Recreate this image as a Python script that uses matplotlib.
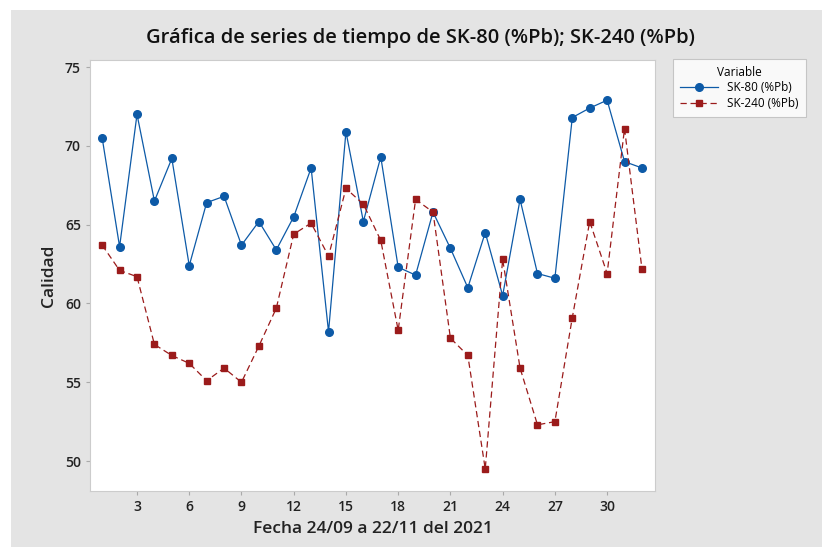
import numpy as np
import matplotlib.pyplot as plt
from matplotlib.patches import Rectangle

plt.rcParams['font.family'] = ['Open Sans', 'DejaVu Sans']

dias = np.arange(1, 33)
sk80 = [70.5, 63.6, 72.0, 66.5, 69.2, 62.4, 66.4, 66.8, 63.7, 65.2,
        63.4, 65.5, 68.6, 58.2, 70.9, 65.2, 69.3, 62.3, 61.8, 65.8,
        63.5, 61.0, 64.5, 60.5, 66.6, 61.9, 61.6, 71.8, 72.4, 72.9,
        69.0, 68.6]
sk240 = [63.7, 62.1, 61.7, 57.4, 56.7, 56.2, 55.1, 55.9, 55.0, 57.3,
         59.7, 64.4, 65.1, 63.0, 67.3, 66.3, 64.0, 58.3, 66.6, 65.8,
         57.8, 56.7, 49.5, 62.8, 55.9, 52.3, 52.5, 59.1, 65.2, 61.9,
         71.1, 62.2]
xticks = [3, 6, 9, 12, 15, 18, 21, 24, 27, 30]
yticks = [50, 55, 60, 65, 70, 75]

gris = '#e4e4e4'
azul = '#0d5aa7'
rojo = '#9b1b1b'

fig = plt.figure(figsize=(8.22, 5.47), dpi=100, facecolor='white')
fig.patches.append(Rectangle((11/822, 0), 1, 537/547, transform=fig.transFigure,
                             facecolor=gris, edgecolor='none', zorder=-1))

ax = fig.add_axes([90/822, 1 - 491/547, 565/822, 431/547])
ax.plot(dias, sk80, color=azul, lw=0.9, marker='o', ms=5.5, label='SK-80 (%Pb)')
ax.plot(dias, sk240, color=rojo, lw=0.9, ls=(0, (5, 3)), marker='s', ms=5,
        label='SK-240 (%Pb)')

ax.set_xlim(0.3, 32.75)
ax.set_ylim(48.1, 75.45)
ax.set_xticks(xticks)
ax.set_yticks(yticks)
ax.tick_params(labelsize=10, colors='#222222', length=3, color='#aaaaaa')
for lab in ax.get_xticklabels() + ax.get_yticklabels():
    lab.set_fontweight('semibold')
for s in ax.spines.values():
    s.set_color('#cccccc')
    s.set_linewidth(0.8)

ax.set_xlabel('Fecha 24/09 a 22/11 del 2021', fontsize=12.5, color='#222222',
              labelpad=5, fontweight='semibold')
ax.set_ylabel('Calidad', fontsize=12.5, color='#222222', labelpad=6,
              fontweight='semibold')
fig.text(0.511, 0.93, 'Gráfica de series de tiempo de SK-80 (%Pb); SK-240 (%Pb)',
         ha='center', va='center', fontsize=14.5, color='#111111', fontweight='semibold')

leg = ax.legend(title='Variable', loc='upper left', bbox_to_anchor=(673/822, 1 - 59/547),
                bbox_transform=fig.transFigure, fontsize=8.5, title_fontsize=8.5,
                fancybox=False, edgecolor='#bbbbbb', borderaxespad=0, handlelength=3.2,
                labelspacing=0.2, borderpad=0.6)
leg.get_frame().set_linewidth(0.8)

fig.savefig('out.png', dpi=100, facecolor=fig.get_facecolor())
